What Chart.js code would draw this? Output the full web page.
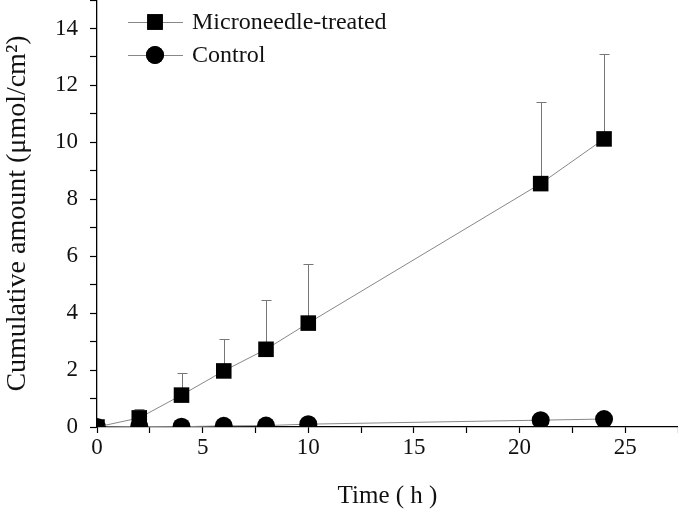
<!DOCTYPE html>
<html>
<head>
<meta charset="utf-8">
<script src="https://cdn.jsdelivr.net/npm/chart.js@4"></script>
<style>
  html, body { margin: 0; padding: 0; background: #fff; }
  #wrap { width: 678px; height: 511px; }
</style>
</head>
<body>
<div id="wrap"><canvas id="myChart" width="678" height="511"></canvas></div>
<script>
// time points (h)
const times = [0, 2, 4, 6, 8, 10, 21, 24];
// cumulative amount, umol/cm2
const microneedle = [0, 0.32, 1.12, 1.97, 2.73, 3.65, 8.55, 10.12];
const microneedleErr = [0, 0.3, 0.76, 1.13, 1.72, 2.07, 2.87, 3.0];
const control = [0, 0.02, 0.01, 0.04, 0.05, 0.1, 0.24, 0.28];

const seriesNames = ['Microneedle-treated', 'Control'];
const FONT = '"Liberation Serif", "Times New Roman", serif';

function toPoints(ys) {
  return times.map((t, i) => ({ x: t, y: ys[i] }));
}

// upper error bars, drawn behind the markers
const errorBars = {
  id: 'errorBars',
  beforeDatasetsDraw(chart) {
    const ctx = chart.ctx;
    const xs = chart.scales.x, ys = chart.scales.y;
    ctx.save();
    ctx.strokeStyle = '#777';
    ctx.lineWidth = 1;
    times.forEach((t, i) => {
      if (!microneedleErr[i]) return;
      const px = Math.round(xs.getPixelForValue(t)) + 0.5;
      const y0 = ys.getPixelForValue(microneedle[i]);
      const y1 = Math.round(ys.getPixelForValue(microneedle[i] + microneedleErr[i])) + 0.5;
      ctx.beginPath();
      ctx.moveTo(px, y0);
      ctx.lineTo(px, y1);
      ctx.moveTo(px - 5, y1);
      ctx.lineTo(px + 5, y1);
      ctx.stroke();
    });
    ctx.restore();
  }
};

// legend inside the plot, line + marker like the original
const insideLegend = {
  id: 'insideLegend',
  afterDraw(chart) {
    const ctx = chart.ctx;
    const left = chart.chartArea.left + 31;
    const rows = [22, 55];
    ctx.save();
    chart.data.datasets.forEach((ds, i) => {
      const y = rows[i];
      ctx.strokeStyle = '#888';
      ctx.lineWidth = 1;
      ctx.beginPath();
      ctx.moveTo(left, y + 0.5);
      ctx.lineTo(left + 55, y + 0.5);
      ctx.stroke();
      Chart.helpers.drawPoint(ctx, {
        pointStyle: ds.pointStyle,
        radius: ds.pointRadius,
        borderWidth: 0
      }, left + 27, y);
      ctx.fillStyle = '#000';
      ctx.fill();
      ctx.font = '24px ' + FONT;
      ctx.textBaseline = 'middle';
      ctx.fillStyle = '#111';
      ctx.fillText(ds.label, left + 64, y + 1);
    });
    ctx.restore();
  }
};

// no extra room for the end labels, the axes run to the canvas edge
function noEdgePadding(s) {
  s.paddingTop = 0;
  s.paddingBottom = 0;
  s.paddingLeft = 0;
  s.paddingRight = 0;
}

const ctx = document.getElementById('myChart');
const myChart = new Chart(ctx, {
  type: 'line',
  data: {
    datasets: [{
      label: seriesNames[0],
      data: toPoints(microneedle),
      borderColor: '#888',
      borderWidth: 1,
      pointStyle: 'rect',
      pointRadius: 11,
      pointBackgroundColor: '#000',
      pointBorderWidth: 0,
      clip: 0
    }, {
      label: seriesNames[1],
      data: toPoints(control),
      borderColor: '#888',
      borderWidth: 1,
      pointStyle: 'circle',
      pointRadius: 9,
      pointBackgroundColor: '#000',
      pointBorderWidth: 0,
      clip: 0
    }]
  },
  options: {
    responsive: false,
    animation: false,
    layout: { padding: 0, autoPadding: false },
    plugins: {
      legend: { display: false },
      tooltip: { enabled: false }
    },
    scales: {
      x: {
        type: 'linear',
        min: 0,
        max: 27.5,
        afterFit: s => { s.height = 84; noEdgePadding(s); },
        border: { color: '#000', width: 1.3 },
        grid: {
          drawOnChartArea: false,
          color: '#000',
          tickLength: 6,
          tickWidth: 1.2
        },
        ticks: {
          stepSize: 2.5,
          autoSkip: false,
          maxRotation: 0,
          color: '#111',
          padding: 1,
          font: { family: FONT, size: 23 },
          callback: v => (v % 5 === 0 ? String(v) : '')
        },
        title: {
          display: true,
          text: 'Time ( h )',
          color: '#111',
          padding: { top: 0, bottom: 0 },
          font: { family: FONT, size: 25 }
        }
      },
      y: {
        min: 0,
        max: 15,
        afterFit: s => { s.width = 97; noEdgePadding(s); },
        border: { color: '#000', width: 1.3 },
        grid: {
          drawOnChartArea: false,
          color: '#000',
          tickLength: 7,
          tickWidth: 1.2
        },
        ticks: {
          stepSize: 1,
          autoSkip: false,
          color: '#111',
          padding: 12,
          font: { family: FONT, size: 23 },
          callback: v => (v % 2 === 0 && v < 15 ? String(v) : '')
        },
        title: {
          display: true,
          text: 'Cumulative amount (μmol/cm²)',
          color: '#111',
          padding: { top: 1, bottom: 0 },
          font: { family: FONT, size: 28 }
        }
      }
    }
  },
  plugins: [errorBars, insideLegend]
});
</script>
</body>
</html>
